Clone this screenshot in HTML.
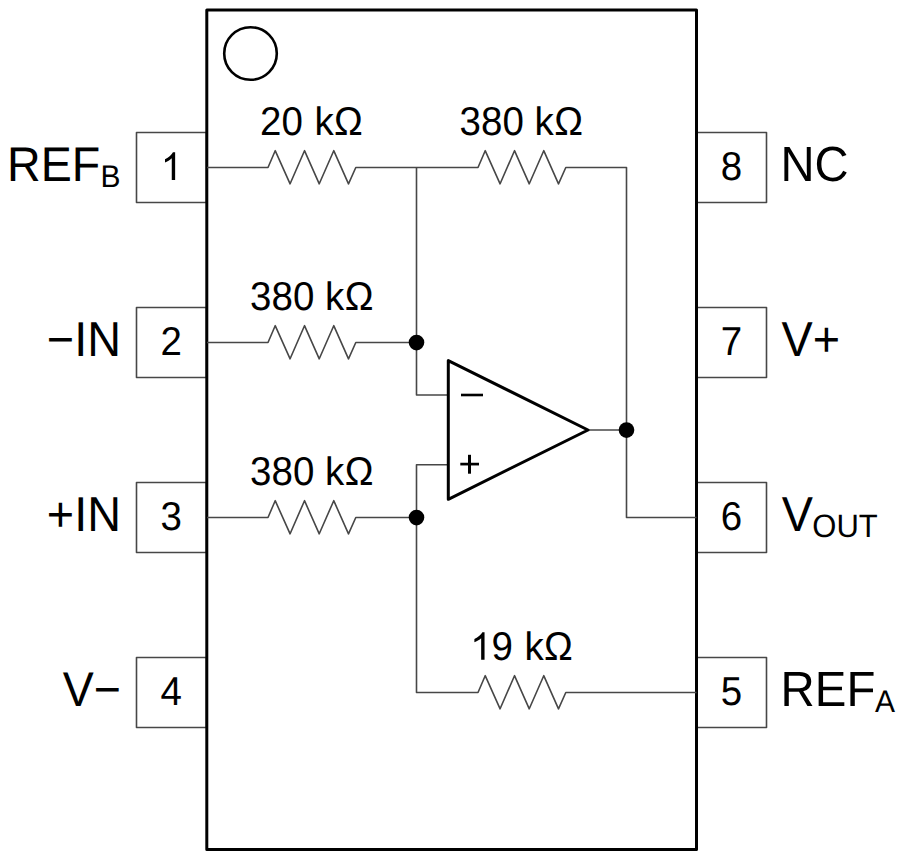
<!DOCTYPE html>
<html>
<head>
<meta charset="utf-8">
<title>Pin configuration</title>
<style>
  html, body { margin: 0; padding: 0; background: #ffffff; }
  body { width: 900px; height: 857px; overflow: hidden; }
  svg { display: block; }
  text { font-family: "Liberation Sans", sans-serif; fill: #000; text-rendering: geometricPrecision; }
  .w { stroke: #474747; stroke-width: 1.6; fill: none; stroke-linejoin: round; }
  .b { stroke: #000; stroke-width: 3; fill: none; stroke-linejoin: round; }
</style>
</head>
<body>
<svg width="900" height="857" viewBox="0 0 900 857">
  <rect x="0" y="0" width="900" height="857" fill="#ffffff"/>
  <g>
  <g class="w">
    <rect x="136.5" y="132.5" width="70" height="70"/>
    <rect x="696.5" y="132.5" width="70" height="70"/>
    <rect x="136.5" y="307.5" width="70" height="70"/>
    <rect x="696.5" y="307.5" width="70" height="70"/>
    <rect x="136.5" y="482.5" width="70" height="70"/>
    <rect x="696.5" y="482.5" width="70" height="70"/>
    <rect x="136.5" y="657.5" width="70" height="70"/>
    <rect x="696.5" y="657.5" width="70" height="70"/>
  </g>
  <rect class="b" x="206.8" y="9.9" width="489.7" height="839.6"/>
  <circle cx="250.5" cy="53.5" r="26.3" fill="none" stroke="#000" stroke-width="2.6"/>
  <g class="w">
    <path d="M207 167.5 H268 L268 167.5 L275.2 150.7 L290.1 183.8 L304.5 150.7 L319.25 183.8 L333.75 150.7 L348.5 183.8 L355.8 167.5 H478 L478 167.5 L485.2 150.7 L500.1 183.8 L514.5 150.7 L529.25 183.8 L543.75 150.7 L558.5 183.8 L565.8 167.5 H626.5 V517.5 H696.5"/>
    <path d="M207 342.5 H268 L268 342.5 L275.2 325.7 L290.1 358.8 L304.5 325.7 L319.25 358.8 L333.75 325.7 L348.5 358.8 L355.8 342.5 H416.5"/>
    <path d="M207 517.5 H268 L268 517.5 L275.2 500.7 L290.1 533.8 L304.5 500.7 L319.25 533.8 L333.75 500.7 L348.5 533.8 L355.8 517.5 H416.5"/>
    <path d="M416.5 167.5 V395 H448"/>
    <path d="M448 464.8 H416.5 V692.5 H478 L478 692.5 L485.2 675.7 L500.1 708.8 L514.5 675.7 L529.25 708.8 L543.75 675.7 L558.5 708.8 L565.8 692.5 H696.5"/>
    <path d="M588 430 H626.5"/>
  </g>
  <path class="b" d="M448.3 360.6 L588 430 L448.3 499.3 Z"/>
  <path d="M461 395 H483" stroke="#000" stroke-width="2.6" fill="none"/>
  <path d="M460.3 464.1 H479" stroke="#000" stroke-width="2.7" fill="none"/>
  <path d="M469.5 454.8 V473.7" stroke="#000" stroke-width="3" fill="none"/>
  <circle cx="416.5" cy="342.6" r="7.8" fill="#000"/>
  <circle cx="416.5" cy="517.6" r="7.8" fill="#000"/>
  <circle cx="626.5" cy="430.1" r="7.8" fill="#000"/>
  <path transform="translate(160.8 179.9) scale(0.01880 -0.01880)" d="M763 0H583V1147Q518 1085 412.5 1023T223 930V1104Q374 1175 487 1276T647 1472H763Z" fill="#000"/>
  <g transform="translate(171.2 354.9) scale(1.0 1.045)"><text text-anchor="middle" font-size="38.5">2</text></g>
  <g transform="translate(171.2 529.9) scale(1.0 1.045)"><text text-anchor="middle" font-size="38.5">3</text></g>
  <g transform="translate(171.2 704.9) scale(1.0 1.045)"><text text-anchor="middle" font-size="38.5">4</text></g>
  <g transform="translate(731.5 179.9) scale(1.0 1.045)"><text text-anchor="middle" font-size="38.5">8</text></g>
  <g transform="translate(731.5 354.9) scale(1.0 1.045)"><text text-anchor="middle" font-size="38.5">7</text></g>
  <g transform="translate(731.5 529.9) scale(1.0 1.045)"><text text-anchor="middle" font-size="38.5">6</text></g>
  <g transform="translate(731.5 704.9) scale(1.0 1.045)"><text text-anchor="middle" font-size="38.5">5</text></g>
  <g transform="translate(260.0 134.8) scale(1.0 1.045)"><text font-size="38.5">20</text></g>
  <g transform="translate(314.6 134.8) scale(1.0 1.0323)"><text font-size="38.5">k</text></g>
  <g transform="translate(334.1 134.8) scale(1.0 1.045)"><text font-size="38.5">Ω</text></g>
  <g transform="translate(459.6 134.8) scale(1.0 1.045)"><text font-size="38.5">380</text></g>
  <g transform="translate(534.5 134.8) scale(1.0 1.0323)"><text font-size="38.5">k</text></g>
  <g transform="translate(554.2 134.8) scale(1.0 1.045)"><text font-size="38.5">Ω</text></g>
  <g transform="translate(250.1 309.8) scale(1.0 1.045)"><text font-size="38.5">380</text></g>
  <g transform="translate(325.0 309.8) scale(1.0 1.0323)"><text font-size="38.5">k</text></g>
  <g transform="translate(344.7 309.8) scale(1.0 1.045)"><text font-size="38.5">Ω</text></g>
  <g transform="translate(250.1 484.8) scale(1.0 1.045)"><text font-size="38.5">380</text></g>
  <g transform="translate(325.0 484.8) scale(1.0 1.0323)"><text font-size="38.5">k</text></g>
  <g transform="translate(344.7 484.8) scale(1.0 1.045)"><text font-size="38.5">Ω</text></g>
  <path transform="translate(470.2 659.8) scale(0.01880 -0.01880)" d="M763 0H583V1147Q518 1085 412.5 1023T223 930V1104Q374 1175 487 1276T647 1472H763Z" fill="#000"/>
  <g transform="translate(491.6 659.8) scale(1.0 1.045)"><text font-size="38.5">9</text></g>
  <g transform="translate(524.6 659.8) scale(1.0 1.0323)"><text font-size="38.5">k</text></g>
  <g transform="translate(544.1 659.8) scale(1.0 1.045)"><text font-size="38.5">Ω</text></g>
  <g transform="translate(7.0 181) scale(1.0 1.045)"><text font-size="46.6">REF</text></g>
  <g transform="translate(100.5 186.6) scale(1.0 1.045)"><text font-size="30">B</text></g>
  <g transform="translate(46.8 355.7) scale(1.0 1.045)"><text font-size="46.8">−IN</text></g>
  <g transform="translate(46.8 530.7) scale(1.0 1.045)"><text font-size="46.8">+IN</text></g>
  <g transform="translate(62.8 705.7) scale(1.0 1.045)"><text font-size="46.5">V−</text></g>
  <g transform="translate(780.5 181) scale(1.0 1.045)"><text font-size="47.2">NC</text></g>
  <g transform="translate(781.5 355.7) scale(1.0 1.045)"><text font-size="46.8">V+</text></g>
  <g transform="translate(781.8 530.7) scale(1.0 1.045)"><text font-size="46.8">V</text></g>
  <g transform="translate(812.3 537.2) scale(1.0 1.045)"><text font-size="31">OUT</text></g>
  <g transform="translate(780.6 705.7) scale(1.0 1.045)"><text font-size="47.4">REF</text></g>
  <g transform="translate(875 711.9) scale(1.0 1.045)"><text font-size="30">A</text></g>
  </g>
</svg>
</body>
</html>
